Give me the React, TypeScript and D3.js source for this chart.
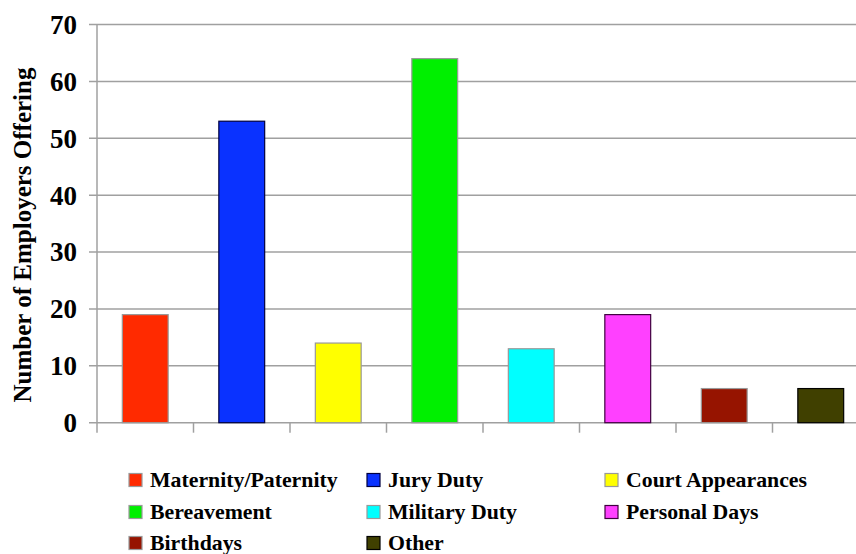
import React from "react";
import * as d3 from "d3";

const categories = [
  "Maternity/Paternity",
  "Jury Duty",
  "Court Appearances",
  "Bereavement",
  "Military Duty",
  "Personal Days",
  "Birthdays",
  "Other",
];
const values = [19, 53, 14, 64, 13, 19, 6, 6];
const fills = ["#FF2A00", "#0A32FF", "#FFFF00", "#00F000", "#00FFFF", "#FF40FF", "#961400", "#404000"];
const strokes = ["#999999", "#000040", "#999999", "#999999", "#999999", "#400040", "#999999", "#000000"];
const yTicks = [0, 10, 20, 30, 40, 50, 60, 70];
const yTitle = "Number of Employers Offering";

const W = 856;
const H = 554;
const left = 97;
const top = 24.5;
const bottom = 422.7;
const step = 96.5;
const font = "'Liberation Serif', 'Times New Roman', serif";

export default function App() {
  const x = d3
    .scaleBand<string>()
    .domain(categories)
    .range([left, left + step * categories.length])
    .paddingInner(0.525)
    .paddingOuter(0.2625);
  const y = d3.scaleLinear().domain([0, 70]).range([bottom, top]);

  const legendCols = [129, 367, 605];
  const legendRows = [480, 512, 543];

  return (
    <svg
      width={W}
      height={H}
      style={{ position: "absolute", left: 0, top: 0, background: "#fff" }}
      fontFamily={font}
    >
      {/* horizontal gridlines with left ticks */}
      {yTicks.map((t) => (
        <line key={"g" + t} x1={89} x2={W} y1={y(t)} y2={y(t)} stroke="#a0a0a0" strokeWidth={1.5} />
      ))}
      {/* y axis line */}
      <line x1={left} x2={left} y1={top} y2={bottom + 10} stroke="#a0a0a0" strokeWidth={1.5} />
      {/* category boundary ticks */}
      {categories.map((_, i) => (
        <line
          key={"t" + i}
          x1={left + step * (i + 1)}
          x2={left + step * (i + 1)}
          y1={bottom}
          y2={bottom + 10}
          stroke="#a0a0a0"
          strokeWidth={1.5}
        />
      ))}
      {/* bars */}
      {categories.map((c, i) => (
        <rect
          key={c}
          x={x(c)}
          y={y(values[i])}
          width={x.bandwidth()}
          height={y(0) - y(values[i])}
          fill={fills[i]}
          stroke={strokes[i]}
          strokeWidth={1.2}
        />
      ))}
      {/* y tick labels */}
      {yTicks.map((t) => (
        <text
          key={"l" + t}
          x={77}
          y={y(t)}
          dy="0.35em"
          textAnchor="end"
          fontSize={27}
          fontWeight="bold"
        >
          {t}
        </text>
      ))}
      {/* y axis title */}
      <text
        transform={`translate(31, ${(68 + 402) / 2}) rotate(-90)`}
        textAnchor="middle"
        fontSize={25}
        fontWeight="bold"
      >
        {yTitle}
      </text>
      {/* legend */}
      {categories.map((c, i) => {
        const cx = legendCols[i % 3];
        const cy = legendRows[Math.floor(i / 3)];
        return (
          <g key={"lg" + c}>
            <rect x={cx} y={cy - 6.5} width={13} height={13} fill={fills[i]} stroke={strokes[i]} strokeWidth={1.2} />
            <text x={cx + 21} y={cy} dy="0.3em" fontSize={21.8} fontWeight="bold">
              {c}
            </text>
          </g>
        );
      })}
    </svg>
  );
}
